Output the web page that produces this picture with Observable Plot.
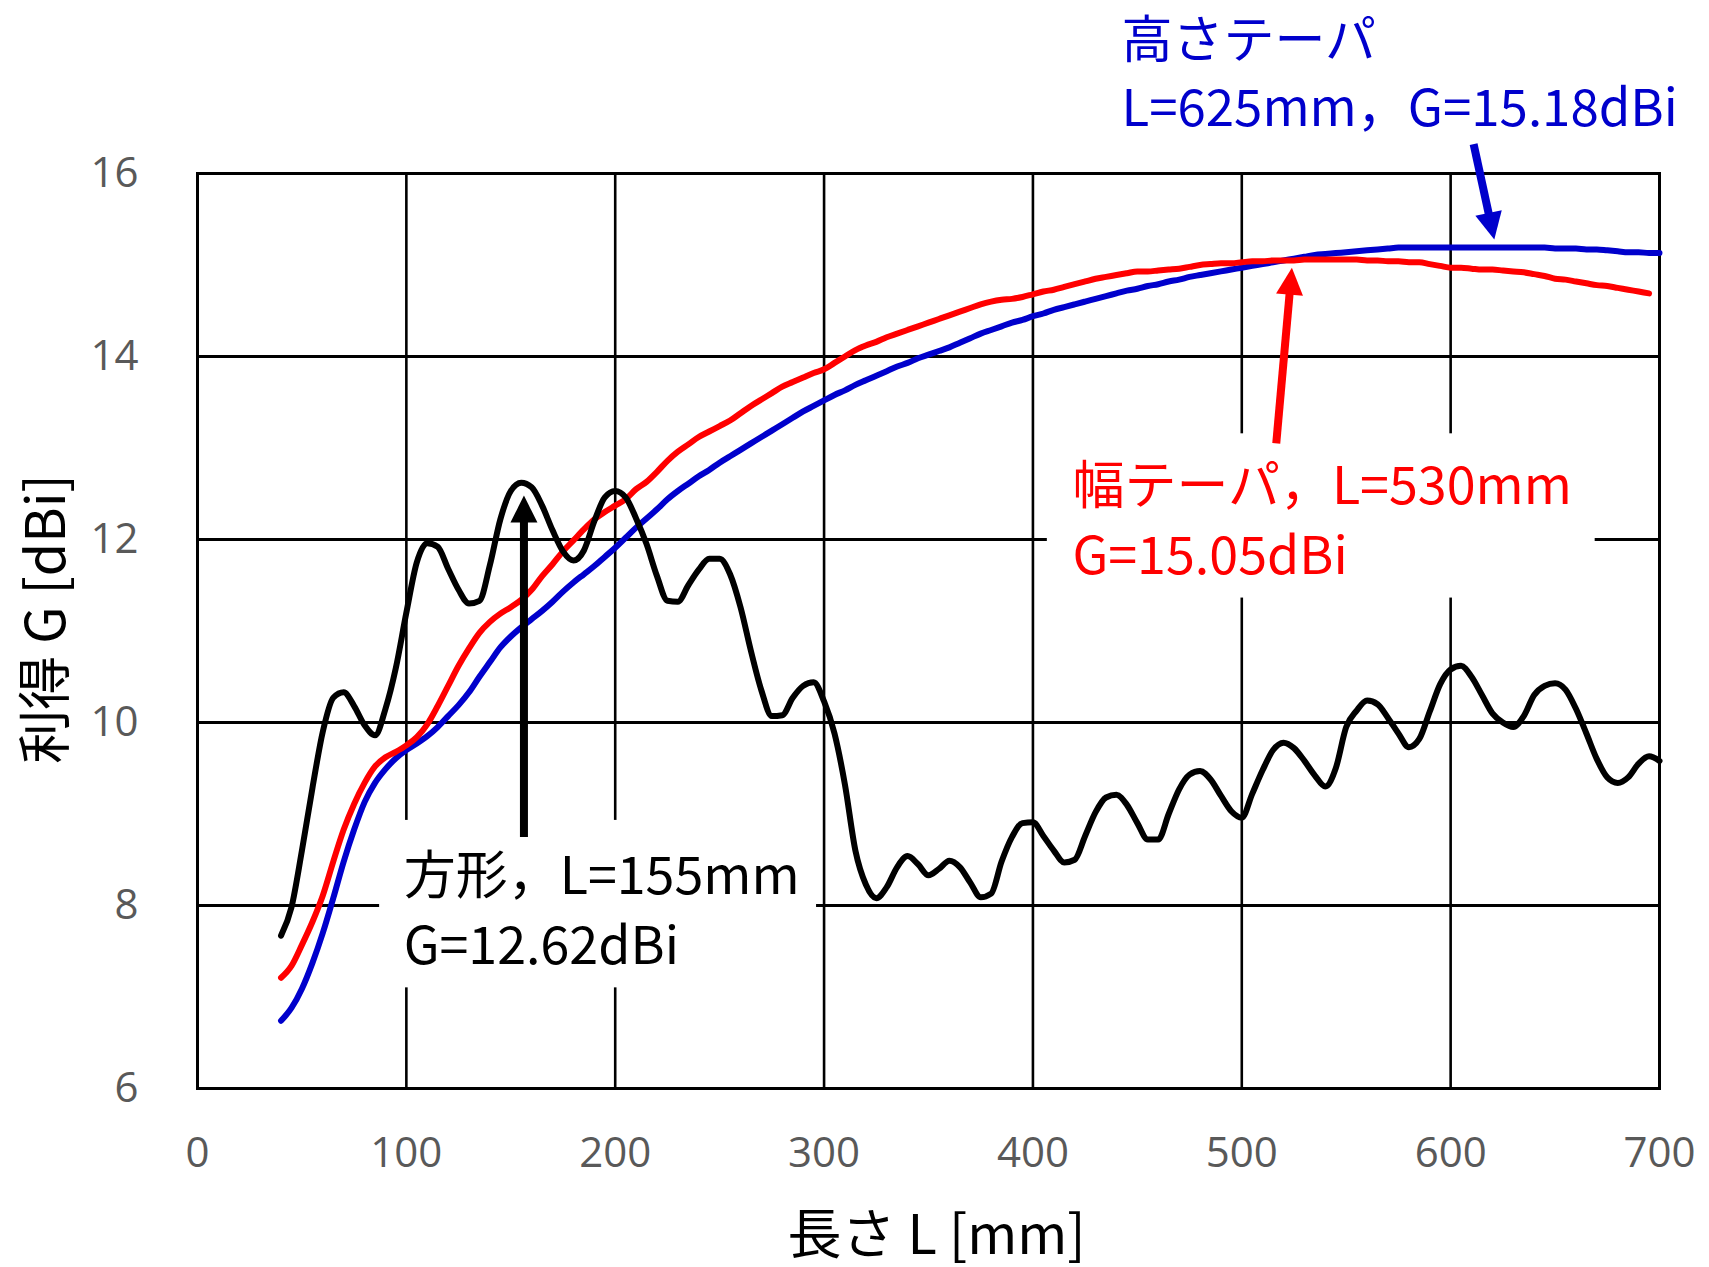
<!DOCTYPE html>
<html>
<head>
<meta charset="utf-8">
<script src="https://cdn.jsdelivr.net/npm/d3@7"></script>
<script src="https://cdn.jsdelivr.net/npm/@observablehq/plot@0.6"></script>
<style>
  html, body { margin: 0; padding: 0; background: #ffffff; }
  svg { display: block; }
</style>
</head>
<body>
<div id="chart"></div>
<script>
// ---------- data ----------
const lengths = [40,45,50,55,60,65,70,75,80,85,90,95,100,105,110,115,120,125,130,135,140,145,150,155,160,165,170,175,180,185,190,195,200,205,210,215,220,225,230,235,240,245,250,255,260,265,270,275,280,285,290,295,300,305,310,315,320,325,330,335,340,345,350,355,360,365,370,375,380,385,390,395,400,405,410,415,420,425,430,435,440,445,450,455,460,465,470,475,480,485,490,495,500,505,510,515,520,525,530,535,540,545,550,555,560,565,570,575,580,585,590,595,600,605,610,615,620,625,630,635,640,645,650,655,660,665,670,675,680,685,690,695,700];

// 方形 (square horn)
const gainSquare = [7.67,7.98,8.6,9.28,9.9,10.27,10.33,10.18,9.97,9.86,10.15,10.6,11.2,11.75,11.96,11.92,11.68,11.45,11.3,11.33,11.72,12.22,12.53,12.62,12.57,12.37,12.1,11.87,11.77,11.88,12.2,12.46,12.53,12.46,12.23,11.95,11.6,11.33,11.32,11.5,11.67,11.79,11.79,11.62,11.26,10.78,10.35,10.07,10.08,10.27,10.4,10.44,10.23,9.88,9.32,8.6,8.23,8.08,8.2,8.42,8.54,8.45,8.33,8.4,8.49,8.42,8.25,8.09,8.13,8.48,8.75,8.9,8.91,8.76,8.6,8.47,8.5,8.76,9.02,9.18,9.21,9.1,8.9,8.72,8.72,9.0,9.27,9.43,9.47,9.38,9.2,9.03,8.96,9.22,9.48,9.7,9.78,9.72,9.58,9.42,9.3,9.5,9.95,10.13,10.24,10.2,10.05,9.88,9.73,9.82,10.12,10.42,10.58,10.62,10.5,10.3,10.1,10.0,9.95,10.07,10.3,10.4,10.43,10.36,10.15,9.88,9.6,9.4,9.34,9.4,9.55,9.63,9.58];

// 幅テーパ (width taper), 40..695
const gainWidthTaper = [7.21,7.34,7.57,7.82,8.11,8.48,8.83,9.11,9.34,9.52,9.62,9.68,9.75,9.84,9.98,10.18,10.4,10.62,10.81,10.98,11.1,11.19,11.26,11.34,11.45,11.6,11.73,11.87,11.99,12.11,12.22,12.3,12.37,12.44,12.55,12.63,12.74,12.86,12.96,13.04,13.12,13.18,13.24,13.3,13.38,13.46,13.53,13.6,13.67,13.72,13.77,13.82,13.86,13.93,14.0,14.07,14.12,14.16,14.21,14.25,14.29,14.33,14.37,14.41,14.45,14.49,14.53,14.57,14.6,14.62,14.63,14.65,14.68,14.71,14.73,14.76,14.79,14.82,14.85,14.87,14.89,14.91,14.93,14.93,14.94,14.95,14.96,14.98,15.0,15.01,15.02,15.02,15.03,15.04,15.04,15.05,15.05,15.05,15.06,15.06,15.06,15.06,15.06,15.06,15.05,15.05,15.04,15.04,15.03,15.03,15.01,14.99,14.97,14.97,14.96,14.95,14.95,14.94,14.93,14.92,14.9,14.88,14.85,14.84,14.82,14.8,14.78,14.77,14.75,14.73,14.71,14.69];

// 高さテーパ (height taper)
const gainHeightTaper = [6.74,6.88,7.09,7.37,7.7,8.08,8.48,8.83,9.13,9.34,9.49,9.61,9.7,9.77,9.85,9.95,10.07,10.19,10.33,10.5,10.66,10.82,10.94,11.04,11.13,11.22,11.32,11.43,11.53,11.62,11.71,11.81,11.91,12.02,12.13,12.23,12.33,12.44,12.53,12.61,12.69,12.76,12.84,12.91,12.98,13.05,13.12,13.19,13.26,13.33,13.4,13.46,13.52,13.58,13.63,13.69,13.74,13.79,13.84,13.89,13.93,13.98,14.02,14.06,14.1,14.15,14.2,14.25,14.29,14.33,14.37,14.4,14.44,14.47,14.51,14.54,14.57,14.6,14.63,14.66,14.69,14.72,14.74,14.77,14.79,14.82,14.84,14.87,14.89,14.91,14.93,14.95,14.97,14.99,15.01,15.03,15.05,15.07,15.09,15.11,15.12,15.13,15.14,15.15,15.16,15.17,15.18,15.19,15.19,15.19,15.19,15.19,15.19,15.19,15.19,15.19,15.19,15.19,15.19,15.19,15.19,15.19,15.18,15.18,15.18,15.17,15.17,15.16,15.15,15.14,15.14,15.13,15.13];

const seriesNames = ["高さテーパ", "幅テーパ", "方形"];
const seriesColors = ["#0000CC", "#FF0000", "#000000"];

const xTicks = [0, 100, 200, 300, 400, 500, 600, 700];
const yTicks = [6, 8, 10, 12, 14, 16];
const xLabel = "長さ L [mm]";
const yLabel = "利得 G [dBi]";

// annotation arrows (data units): tail -> tip
const arrowX1 = [156.3, 516.5, 611.0];
const arrowY1 = [8.75, 13.05, 16.32];
const arrowX2 = [156.3, 524.0, 620.9];
const arrowY2 = [12.48, 14.97, 15.28];
const arrowColors = ["#000000", "#FF0000", "#0000CC"];

// white label boxes (data units)
const boxX1 = [87.2, 406.9];
const boxX2 = [296.4, 669.2];
const boxY1 = [7.10, 11.36];
const boxY2 = [8.93, 13.155];

// annotation texts (anchored at the baseline of the last line)
const noteText = ["方形，L=155mm\nG=12.62dBi", "幅テーパ，L=530mm\nG=15.05dBi", "高さテーパ\nL=625mm，G=15.18dBi"];
const noteX = [98.7, 418.9, 442.4];
const noteY = [7.366, 11.626, 16.52];
const noteColors = ["#000000", "#FF0000", "#0000CC"];
const noteSizes = [52, 52, 51];
const noteLineHeights = [1.33, 1.35, 1.33];

// ---------- layout ----------
const W = 1709, H = 1267;
const mL = 197, mR = 50, mT = 173, mB = 179;
const xDomain = [0, 700], yDomain = [6, 16];
const kx = (W - mL - mR) / (xDomain[1] - xDomain[0]);
const ky = (H - mT - mB) / (yDomain[1] - yDomain[0]);

// ---------- tables ----------
const seriesValues = [gainHeightTaper, gainWidthTaper, gainSquare];
const rows = [];
seriesValues.forEach((vals, s) => {
  vals.forEach((g, i) => rows.push({series: seriesNames[s], L: lengths[i], G: g}));
});

const arrows = arrowX1.map((_, i) => {
  const dxp = (arrowX2[i] - arrowX1[i]) * kx;
  const dyp = -(arrowY2[i] - arrowY1[i]) * ky;
  return {x1: arrowX1[i], y1: arrowY1[i], x2: arrowX2[i], y2: arrowY2[i], color: arrowColors[i], angle: Math.atan2(dyp, dxp)};
});
const boxes = boxX1.map((_, i) => ({x1: boxX1[i], x2: boxX2[i], y1: boxY1[i], y2: boxY2[i]}));
const notes = noteText.map((t, i) => ({text: t, x: noteX[i], y: noteY[i], color: noteColors[i], size: noteSizes[i], lh: noteLineHeights[i]}));

function headSymbol(angle, widthRatio) {
  return {
    draw(ctx, size) {
      const len = Math.sqrt(size / Math.PI);
      const half = len * widthRatio / 2;
      const c = Math.cos(angle), s = Math.sin(angle);
      const bx = -len * c, by = -len * s;
      ctx.moveTo(0, 0);
      ctx.lineTo(bx - half * s, by + half * c);
      ctx.lineTo(bx + half * s, by - half * c);
      ctx.closePath();
    }
  };
}

const tickFont = "'Open Sans', 'Liberation Sans', sans-serif";
const jpFont = "'Noto Sans CJK JP', 'Noto Sans', sans-serif";
const intFormat = (d) => String(d);

const marks = [
  Plot.gridX(xTicks, {stroke: "#000", strokeOpacity: 1, strokeWidth: 2.6}),
  Plot.gridY(yTicks, {stroke: "#000", strokeOpacity: 1, strokeWidth: 3}),
  Plot.frame({stroke: "#000", strokeWidth: 3}),
  Plot.rect(boxes, {x1: "x1", x2: "x2", y1: "y1", y2: "y2", fill: "#ffffff"}),
  Plot.axisX(xTicks, {tickSize: 0, tickPadding: 49, fontSize: 42, fontFamily: tickFont, fill: "#595959", tickFormat: intFormat, label: null}),
  Plot.axisY(yTicks, {tickSize: 0, tickPadding: 59, fontSize: 42, fontFamily: tickFont, fill: "#595959", tickFormat: intFormat, label: null}),
  Plot.line(rows, {x: "L", y: "G", z: "series", stroke: "series", strokeWidth: 6, strokeLinejoin: "round", strokeLinecap: "round", curve: "monotone-x"}),
  Plot.arrow(arrows, {x1: "x1", y1: "y1", x2: "x2", y2: "y2", stroke: "color", strokeWidth: 8, headLength: 0, insetEnd: 22, strokeLinecap: "butt"})
];
arrows.forEach((a) => {
  marks.push(Plot.dot([a], {x: "x2", y: "y2", r: 27, fill: a.color, stroke: "none", symbol: headSymbol(a.angle, 1.0)}));
});
notes.forEach((n) => {
  marks.push(Plot.text([n], {x: "x", y: "y", text: "text", fill: n.color, fontSize: n.size, fontFamily: jpFont, textAnchor: "start", lineAnchor: "bottom", lineHeight: n.lh}));
});
marks.push(Plot.text([xLabel], {frameAnchor: "bottom", text: (d) => d, fontSize: 54, fontFamily: jpFont, fill: "#000", textAnchor: "middle", lineAnchor: "bottom", dx: 8, dy: 165}));
marks.push(Plot.text([yLabel], {frameAnchor: "left", text: (d) => d, fontSize: 54, fontFamily: jpFont, fill: "#000", textAnchor: "middle", rotate: -90, lineAnchor: "bottom", dx: -133, dy: -12}));

const chart = Plot.plot({
  width: W,
  height: H,
  marginLeft: mL,
  marginRight: mR,
  marginTop: mT,
  marginBottom: mB,
  style: {background: "#ffffff", fontFamily: jpFont, overflow: "visible"},
  x: {domain: xDomain, axis: null},
  y: {domain: yDomain, axis: null},
  color: {domain: seriesNames, range: seriesColors},
  marks
});
document.getElementById("chart").appendChild(chart);
</script>
</body>
</html>
